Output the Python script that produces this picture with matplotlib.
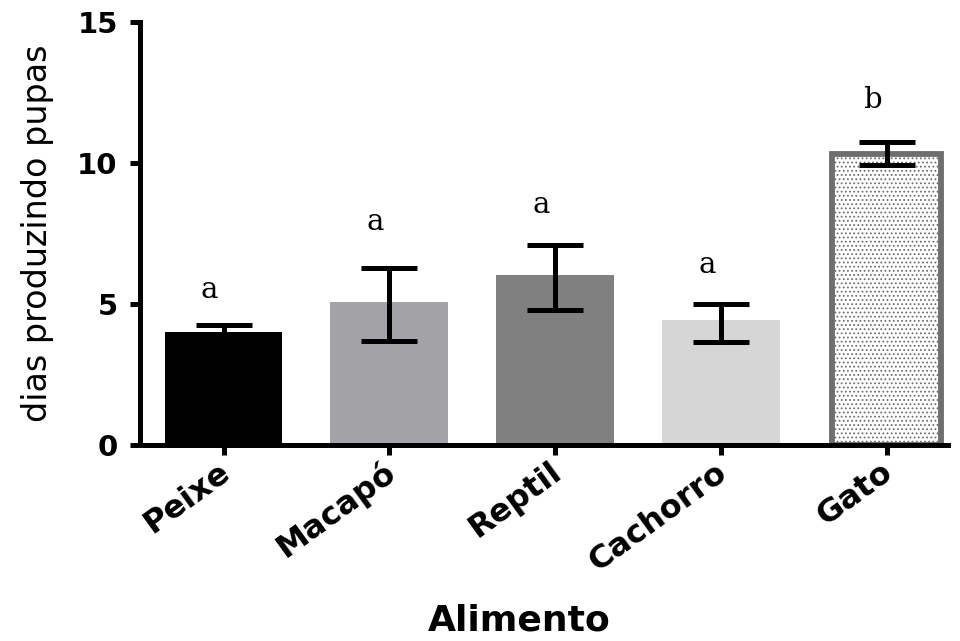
import numpy as np
import matplotlib
matplotlib.use("Agg")
import matplotlib.pyplot as plt
import matplotlib.transforms as mtrans

# data
categories = ["Peixe", "Macapó", "Reptil", "Cachorro", "Gato"]
means = [4.02, 5.08, 6.03, 4.43, 10.33]
err_low = [0.25, 1.38, 1.24, 0.78, 0.40]
err_high = [0.24, 1.18, 1.06, 0.57, 0.41]
letters = ["a", "a", "a", "a", "b"]
letter_y = [5.21, 7.62, 8.23, 6.10, 11.95]
y_ticks = [0, 5, 10, 15]

colors = ["#000000", "#a2a2a7", "#808080", "#d6d6d6", "#ffffff"]

plt.rcParams["hatch.linewidth"] = 0.8

fig = plt.figure(figsize=(9.6, 6.41), dpi=100)
ax = fig.add_axes([0.1458, 0.3058, 0.8417, 0.660])

x = np.arange(len(categories))
bars = ax.bar(x, means, width=0.71, color=colors, edgecolor="none", zorder=2)

# last bar: dotted fill with a thick grey outline
gato = bars[-1]
gato.set_edgecolor("#6e6e6e")
gato.set_linewidth(4.2)
gato.set_hatch("....")
gato.set_width(0.66)
gato.set_x(x[-1] - 0.33)

ax.errorbar(x, means, yerr=[err_low, err_high], fmt="none", ecolor="black",
            elinewidth=3.6, capsize=20, capthick=3.6, zorder=3)

for xi, lab, ly in zip(x, letters, letter_y):
    ax.text(xi - 0.085, ly, lab, ha="center", va="baseline",
            fontsize=21, family="DejaVu Serif", color="black")

ax.set_xlim(-0.504, 4.37)
ax.set_ylim(0, 15)
ax.set_yticks(y_ticks)
ax.set_xticks(x)

for side in ("top", "right"):
    ax.spines[side].set_visible(False)
for side in ("left", "bottom"):
    ax.spines[side].set_linewidth(3.6)

ax.tick_params(axis="both", direction="out", length=7, width=3.6)
ax.tick_params(axis="y", pad=9)
ax.set_yticklabels([str(t) for t in y_ticks], fontsize=21, fontweight="bold",
                   family="DejaVu Sans")
ax.set_xticklabels(categories, rotation=36, ha="right", va="center",
                   rotation_mode="anchor", fontsize=23, fontweight="bold",
                   family="DejaVu Sans")
off = mtrans.ScaledTranslation(2 / 72, -7 / 72, fig.dpi_scale_trans)
for lbl in ax.get_xticklabels():
    lbl.set_transform(lbl.get_transform() + off)

ax.set_ylabel("dias produzindo pupas", fontsize=24, family="DejaVu Sans")
ax.yaxis.set_label_coords(-0.106, 0.5)
fig.text(0.541, 0.016, "Alimento", ha="center", va="baseline", fontsize=26,
         fontweight="bold", family="DejaVu Sans")

fig.savefig("out.png", dpi=100)
